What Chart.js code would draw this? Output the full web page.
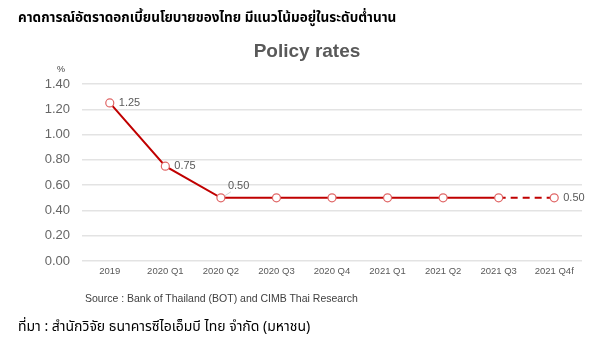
<!DOCTYPE html>
<html><head><meta charset="utf-8">
<script src="https://cdn.jsdelivr.net/npm/chart.js@4"></script>
<style>
html,body{margin:0;padding:0;background:#fff;}
#wrap{position:relative;width:599px;height:351px;overflow:hidden;}
canvas{position:absolute;left:0;top:0;}
.t{position:absolute;white-space:nowrap;}
#th{left:18px;top:8px;font:bold 13.5px "Noto Sans Thai","Noto Sans","DejaVu Sans",sans-serif;color:#000;}
#pt{left:0;width:614px;text-align:center;top:40px;font:bold 19px "Liberation Sans",Arial,sans-serif;color:#595959;}
#pc{left:57px;top:64px;font:9px "Liberation Sans",Arial,sans-serif;color:#404040;}
#src{left:85px;top:292px;font:10.5px "Liberation Sans",Arial,sans-serif;color:#404040;}
#ft{left:18px;top:316px;font:14px "Noto Sans Thai","Noto Sans","DejaVu Sans",sans-serif;color:#000;}
</style></head>
<body><div id="wrap">
<canvas id="c" width="599" height="351"></canvas>
<div class="t" id="th">คาดการณ์อัตราดอกเบี้ยนโยบายของไทย มีแนวโน้มอยู่ในระดับต่ำนาน</div>
<div class="t" id="pt">Policy rates</div>
<div class="t" id="pc">%</div>
<div class="t" id="src">Source : Bank of Thailand (BOT) and CIMB Thai Research</div>
<div class="t" id="ft">ที่มา : สำนักวิจัย ธนาคารซีไอเอ็มบี ไทย จำกัด (มหาชน)</div>
</div>
<script>
const categories = ["2019","2020 Q1","2020 Q2","2020 Q3","2020 Q4","2021 Q1","2021 Q2","2021 Q3","2021 Q4f"];
const policyRate = [1.25,0.75,0.50,0.50,0.50,0.50,0.50,0.50,0.50];
const labelledPoints = [0,1,2,8];

const labelPlugin = {
  id:'lbl',
  afterDatasetsDraw(chart){
    const ctx = chart.ctx;
    const meta = chart.getDatasetMeta(0);
    ctx.save();
    ctx.font = '11px "Liberation Sans", Arial, sans-serif';
    ctx.fillStyle = '#595959';
    ctx.textBaseline = 'middle';
    labelledPoints.forEach(i=>{
      const p = meta.data[i];
      const txt = policyRate[i].toFixed(2);
      if(i===2){
        ctx.strokeStyle='#d0d0d0'; ctx.lineWidth=1;
        ctx.beginPath(); ctx.moveTo(p.x+4,p.y-2); ctx.lineTo(p.x+10,p.y-6); ctx.stroke();
        ctx.fillText(txt,p.x+7,p.y-12);
      } else {
        ctx.fillText(txt,p.x+9,p.y);
      }
    });
    ctx.restore();
  }
};

new Chart(document.getElementById('c'),{
  type:'line',
  data:{labels:categories,datasets:[{
    data:policyRate,
    borderColor:'#c00000',
    borderWidth:2,
    pointRadius:4,
    pointHoverRadius:4,
    pointBackgroundColor:'#ffffff',
    pointBorderColor:'#e06666',
    pointBorderWidth:1.2,
    tension:0,
    segment:{borderDash:c=>c.p1DataIndex===8?[7,5]:undefined}
  }]},
  options:{
    responsive:false,animation:false,
    layout:{padding:{left:40,right:17,top:84,bottom:70}},
    plugins:{legend:{display:false},tooltip:{enabled:false},title:{display:false}},
    scales:{
      x:{
        offset:true,
        grid:{display:false,drawTicks:false,offset:true},border:{display:false},
        ticks:{color:'#595959',font:{size:9.5,family:'"Liberation Sans", Arial, sans-serif'},padding:5,maxRotation:0,autoSkip:false},
        afterFit(s){s.height=20;}
      },
      y:{
        min:0,max:1.4,
        grid:{color:'#e3e3e3',lineWidth:1.5,drawTicks:false},border:{display:false},
        ticks:{stepSize:0.2,color:'#666666',padding:12,font:{size:13,family:'"Liberation Sans", Arial, sans-serif'},callback:v=>Number(v).toFixed(2)},
        afterFit(s){s.width=42;}
      }
    }
  },
  plugins:[labelPlugin]
});
</script>
</body></html>
